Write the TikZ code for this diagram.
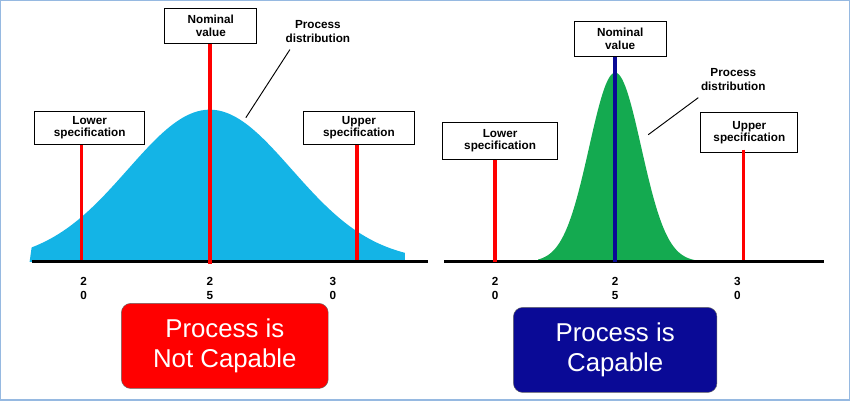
\documentclass[tikz,border=0pt]{standalone}
\usepackage{fontspec}
\setmainfont{Liberation Sans}
\definecolor{skyfill}{RGB}{20,180,230}
\definecolor{greenfill}{RGB}{20,170,80}
\definecolor{navy}{RGB}{10,10,150}
\definecolor{framecol}{RGB}{150,185,225}

\begin{document}
\begin{tikzpicture}[x=0.03cm, y=-0.03cm,
    label/.style={draw, thick, fill=white, align=center, font=\fontsize{10}{11}\selectfont\bfseries, inner sep=2pt},
    digit/.style={align=center, font=\fontsize{10}{12}\selectfont\bfseries},
    speck/.style={red, line width=3pt},
    verdict/.style={draw=black!60, rounded corners=8pt, text=white, align=center, font=\fontsize{22}{26}\selectfont, minimum width=6.2cm, minimum height=2.55cm}]
    % Frame
    \draw[framecol, line width=1pt] (1,1) rectangle (849,400);

    % Left panel: wide distribution
    \fill[skyfill] (30,262) -- plot[domain=32:405, samples=120, smooth] (\x, {262-152*exp(-0.5*((\x-210)/82)^2)}) -- (405,262) -- cycle;
    \draw[line width=2.5pt] (32,262) -- (428,262);
    \node[label, minimum width=3.3cm, minimum height=1cm] (lsl) at (90,128) {Lower\\specification};
    \node[label, minimum width=2.75cm, minimum height=1.05cm] (nom) at (211,26) {Nominal\\value};
    \node[label, minimum width=3.3cm, minimum height=1cm] (usl) at (359,128) {Upper\\specification};
    \coordinate (lslfoot) at (82,260);
    \coordinate (nomfoot) at (210,264);
    \coordinate (uslfoot) at (357,260);
    \draw[speck] (lsl.south -| lslfoot) -- (lslfoot);
    \draw[speck] (nom.south -| nomfoot) -- (nomfoot);
    \draw[speck] (usl.south -| uslfoot) -- (uslfoot);
    \node[digit] (pd) at (318,32) {Process\\distribution};
    \coordinate (pdtip) at (246,118);
    \draw[thick] (290,50) -- (pdtip);
    \node[digit] (la) at (84,289) {2\\0};
    \node[digit] (lb) at (210,289) {2\\5};
    \node[digit] (lc) at (333,289) {3\\0};
    \node[verdict, fill=red] (bad) at (225,346) {Process is\\Not Capable};

    % Right panel: narrow distribution
    \fill[greenfill] (538,262) -- plot[domain=538:695, samples=120, smooth] (\x, {262-189*exp(-0.5*((\x-615)/26)^2)}) -- (695,262) -- cycle;
    \draw[line width=2.5pt] (444,262) -- (824,262);
    \node[label, minimum width=3.45cm, minimum height=1.1cm] (lsl2) at (500,141) {Lower\\specification};
    \node[label, minimum width=2.75cm, minimum height=1.05cm] (nom2) at (620,39) {Nominal\\value};
    \node[label, minimum width=2.9cm, minimum height=1.2cm] (usl2) at (749,133) {Upper\\specification};
    \coordinate (lslfoot2) at (495,262);
    \coordinate (nomfoot2) at (615,262);
    \coordinate (uslfoot2) at (743,260);
    \draw[speck] (lsl2.south -| lslfoot2) -- (lslfoot2);
    \draw[navy, line width=3pt] (nom2.south -| nomfoot2) -- (nomfoot2);
    \draw[speck] (743,150) -- (uslfoot2);
    \node[digit] (pd2) at (733,80) {Process\\distribution};
    \coordinate (pdtip2) at (648,135);
    \draw[thick] (698,98) -- (pdtip2);
    \node[digit] (ra) at (495,289) {2\\0};
    \node[digit] (rb) at (615,289) {2\\5};
    \node[digit] (rc) at (737,289) {3\\0};
    \node[verdict, fill=navy, minimum width=6.1cm] (good) at (615,350) {Process is\\Capable};
\end{tikzpicture}
\end{document}
